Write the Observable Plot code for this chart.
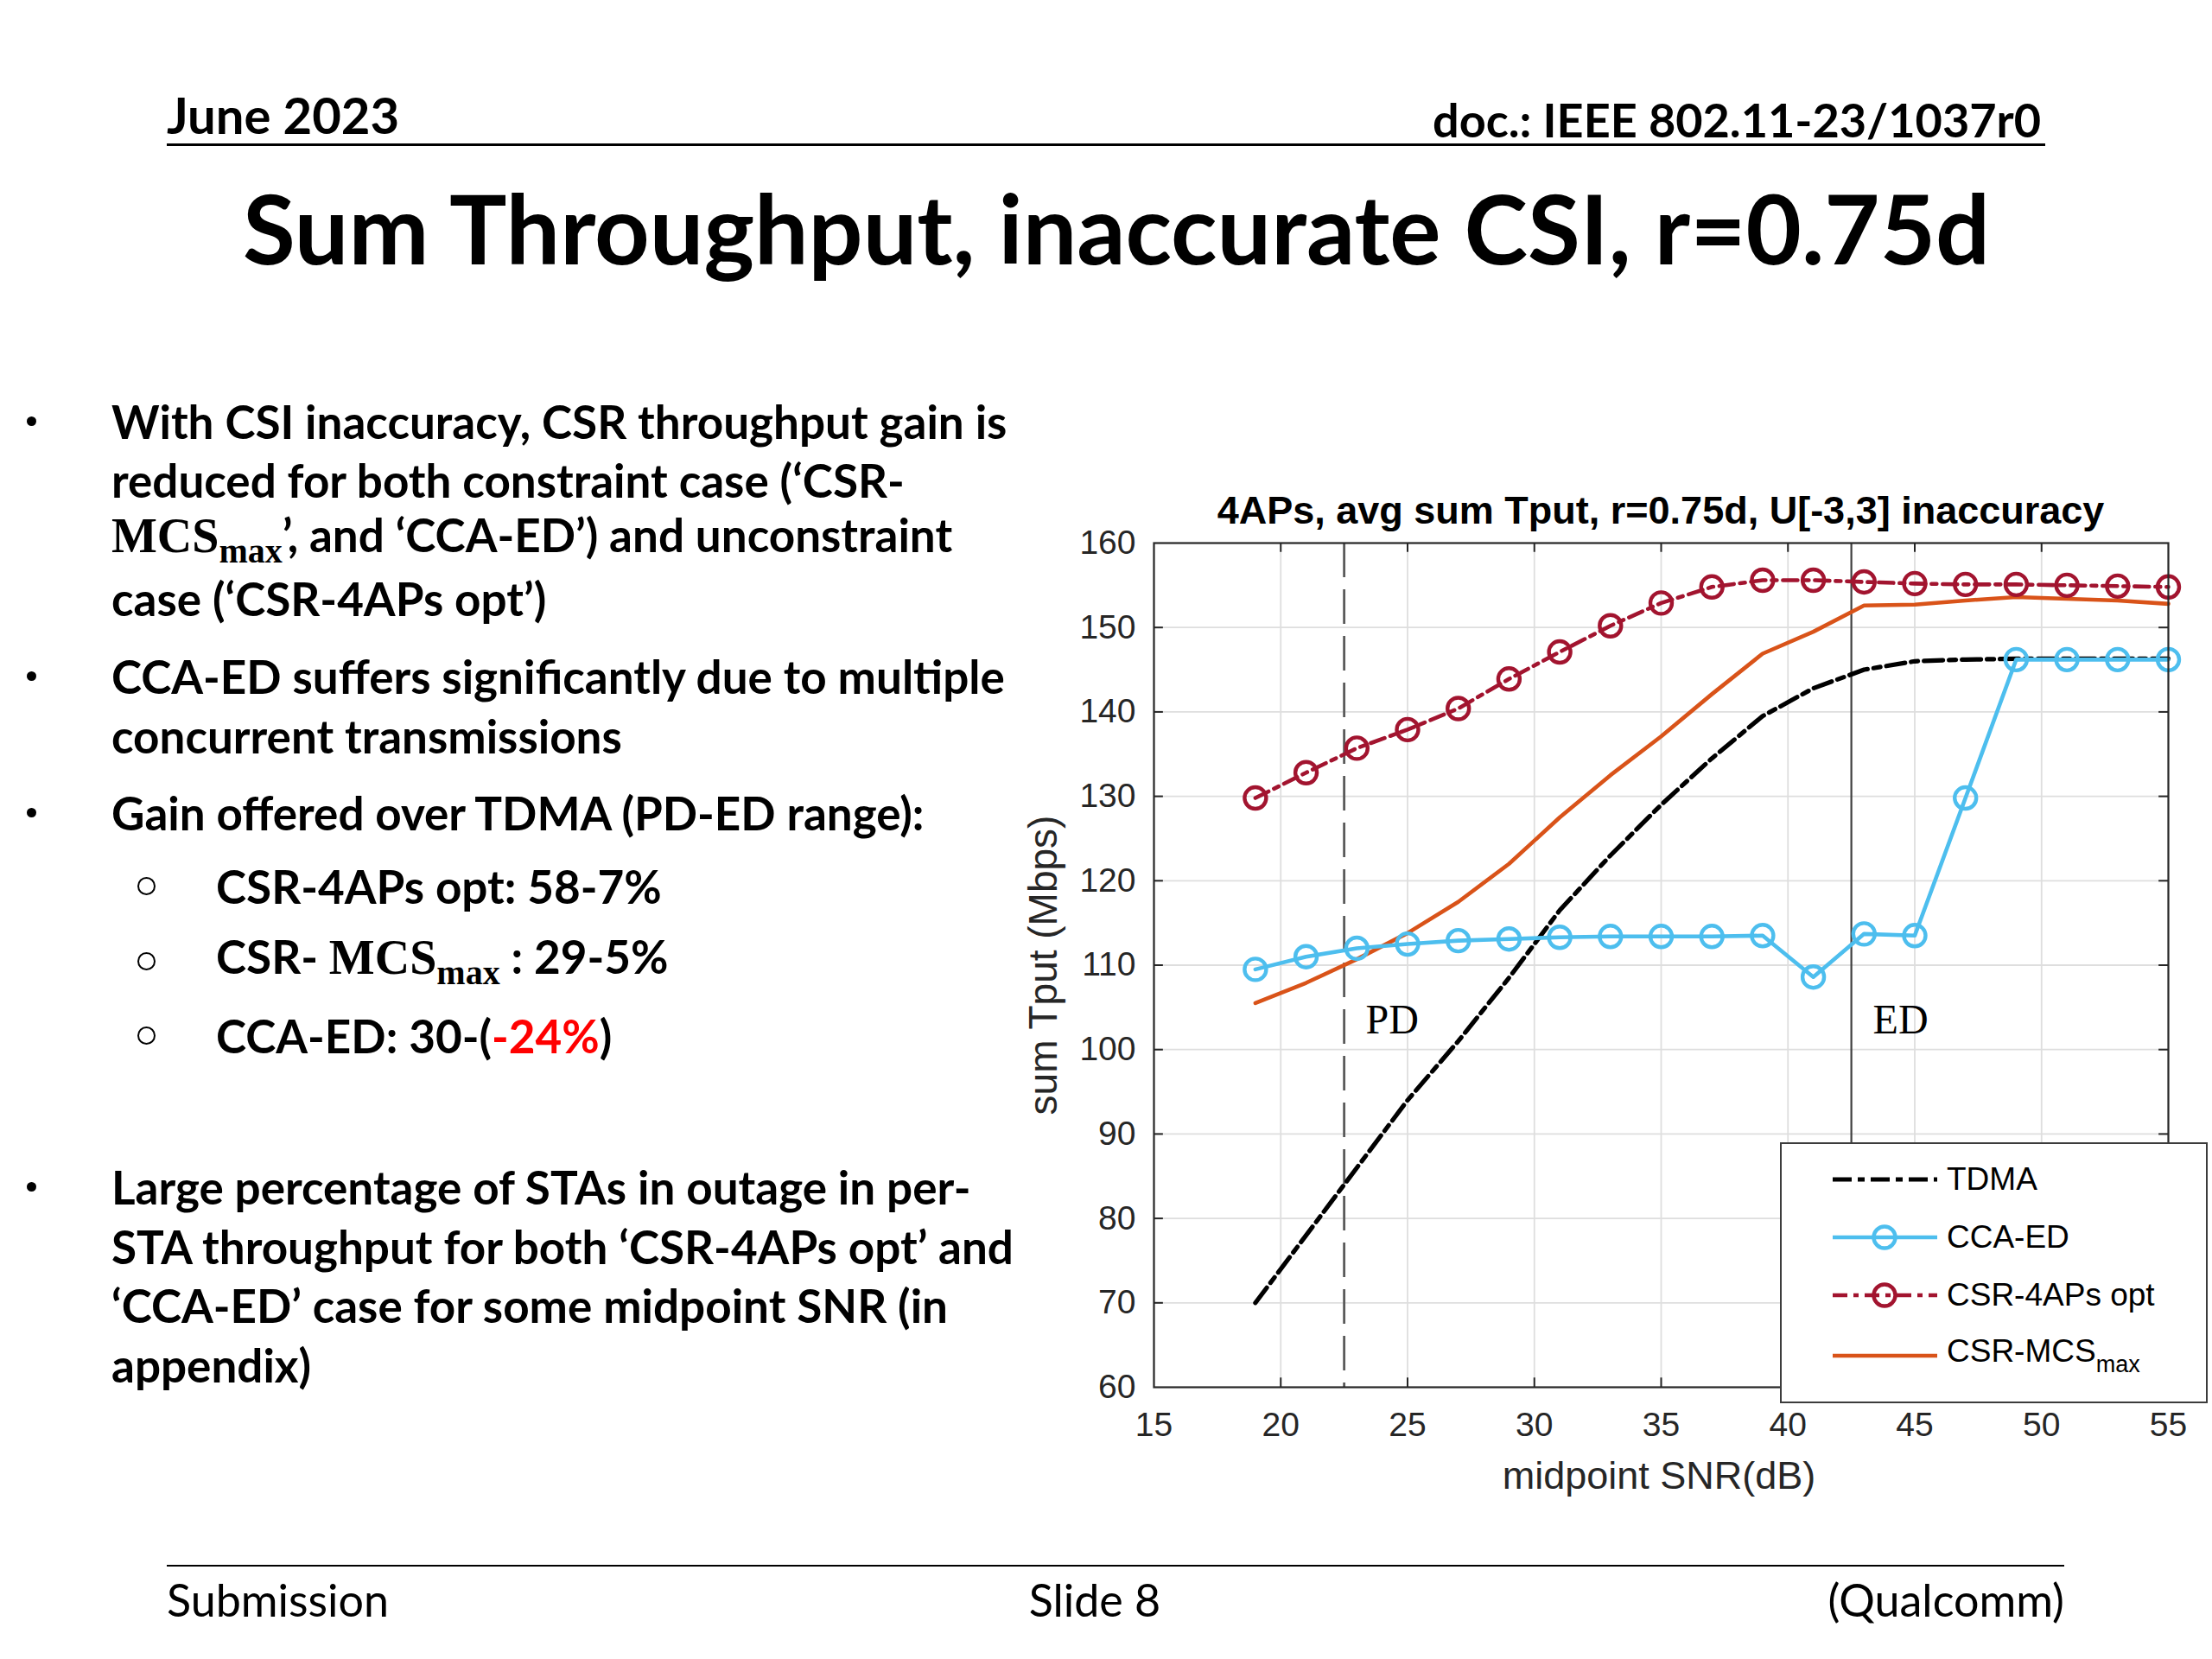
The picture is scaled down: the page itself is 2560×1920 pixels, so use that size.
<!DOCTYPE html>
<html>
<head>
<meta charset="utf-8">
<script src="https://cdn.jsdelivr.net/npm/d3@7"></script>
<script src="https://cdn.jsdelivr.net/npm/@observablehq/plot@0.6"></script>
<style>
  html, body { margin: 0; padding: 0; background: #fff; }
  #slide { position: relative; width: 2560px; height: 1920px; background: #fff; overflow: hidden; font-family: Lato, "Open Sans", sans-serif; color: #000; }
  .abs { position: absolute; white-space: nowrap; }
  .line { position: absolute; white-space: nowrap; font-weight: 700; font-size: 53px; transform: translateY(-50%); }
  .math { font-family: "Liberation Serif", "DejaVu Serif", serif; font-weight: 700; font-size: 56px; }
  .math sub { font-size: 40px; vertical-align: -0.28em; }
  .leg { position: absolute; left: 0; font-family: "Liberation Sans", Arial, sans-serif; font-size: 37px; color: #000; }
</style>
</head>
<body>
<div id="slide"></div>
<script>
// ---------- data ----------
const snr     = [19, 21, 23, 25, 27, 29, 31, 33, 35, 37, 39, 41, 43, 45, 47, 49, 51, 53, 55];
const tdma    = [70, 78, 86, 94, 101, 108.5, 116.5, 123, 129, 134.5, 139.5, 142.8, 145, 146, 146.2, 146.3, 146.3, 146.3, 146.3];
const ccaEd   = [109.5, 111, 112, 112.5, 112.9, 113.1, 113.3, 113.4, 113.4, 113.4, 113.5, 108.6, 113.7, 113.5, 129.8, 146.2, 146.2, 146.2, 146.2];
const csr4ap  = [129.8, 132.8, 135.7, 137.9, 140.4, 143.9, 147.1, 150.2, 152.9, 154.8, 155.6, 155.6, 155.4, 155.2, 155.1, 155.1, 155.0, 154.9, 154.8];
const csrMcs  = [105.5, 107.9, 110.7, 113.8, 117.5, 122.0, 127.5, 132.5, 137.1, 142.1, 146.9, 149.5, 152.6, 152.7, 153.2, 153.6, 153.4, 153.2, 152.8];
const xTicks  = [15, 20, 25, 30, 35, 40, 45, 50, 55];
const yTicks  = [60, 70, 80, 90, 100, 110, 120, 130, 140, 150, 160];
const thresholds = [22.5, 42.5];           // PD, ED midpoint SNR
const thresholdLabels = ["PD", "ED"];
const labelY = 103.5;
const seriesNames = ["TDMA", "CCA-ED", "CSR-4APs opt", "CSR-MCS"];

const slide = document.getElementById("slide");
function add(html, style, cls) {
  const d = document.createElement("div");
  d.className = cls || "abs";
  d.setAttribute("style", style);
  d.innerHTML = html;
  slide.appendChild(d);
  return d;
}

// ---------- slide header / footer ----------
add("June 2023", "left:193px; top:98px; font-weight:700; font-size:58px;");
add("doc.: IEEE 802.11-23/1037r0", "right:198px; top:106px; font-weight:700; font-size:54px;");
add("", "left:193px; top:166px; width:2174px; height:3px; background:#000;");
add("Sum Throughput, inaccurate CSI, r=0.75d", "left:0; width:2584px; text-align:center; top:196px; font-weight:700; font-size:111px;");
add("", "left:193px; top:1811px; width:2196px; height:2px; background:#000;");
add("Submission", "left:193px; top:1820px; font-size:52px;");
add("Slide 8", "left:1267px; transform:translateX(-50%); top:1820px; font-size:52px;");
add("(Qualcomm)", "right:171px; top:1820px; font-size:52px;");

// ---------- bullets ----------
const MCS = '<span class="math">MCS<sub>max</sub></span>';
const lines = [
  [129, 487, "With CSI inaccuracy, CSR throughput gain is"],
  [129, 555, "reduced for both constraint case (‘CSR-"],
  [129, 624, MCS + "’, and ‘CCA-ED’) and unconstraint"],
  [129, 692, "case (‘CSR-4APs opt’)"],
  [129, 782, "CCA-ED suffers significantly due to multiple"],
  [129, 851, "concurrent transmissions"],
  [129, 940, "Gain offered over TDMA (PD-ED range):"],
  [250, 1025, "CSR-4APs opt: 58-7%"],
  [250, 1112, "CSR- " + MCS + " : 29-5%"],
  [250, 1198, 'CCA-ED: 30-(<span style="color:#ff0000">-24%</span>)'],
  [129, 1373, "Large percentage of STAs in outage in per-"],
  [129, 1442, "STA throughput for both ‘CSR-4APs opt’ and"],
  [129, 1510, "‘CCA-ED’ case for some midpoint SNR (in"],
  [129, 1579, "appendix)"]
];
lines.forEach(([x, y, t]) => add(t, `left:${x}px; top:${y}px;`, "line"));
[487, 782, 940, 1373].forEach(y => add("", `left:31px; top:${y - 5}px; width:11px; height:11px; border-radius:50%; background:#000;`));
[1025, 1112, 1198].forEach(y => add("", `left:159px; top:${y - 10}px; width:21px; height:21px; border-radius:50%; border:2.5px solid #000; box-sizing:border-box;`));

// ---------- chart ----------
const rows = snr.map((x, i) => ({x, tdma: tdma[i], cca: ccaEd[i], csr4: csr4ap[i], mcs: csrMcs[i]}));
const C = {tdma: "#000000", cca: "#4DBEEE", csr4: "#A2142F", mcs: "#D95319"};
const DASH_TDMA = "22,7,8,7", DASH_CSR = "17,7,6,7";

const chart = Plot.plot({
  width: 1410, height: 1170,
  marginLeft: 185, marginTop: 68, marginRight: 51, marginBottom: 125,
  x: {domain: [15, 55], label: null},
  y: {domain: [60, 160], label: null},
  style: {fontFamily: "'Liberation Sans', Arial, sans-serif", fontSize: "39px", color: "#262626", background: "transparent", overflow: "visible"},
  marks: [
    Plot.gridX(xTicks.slice(1, -1), {stroke: "#dedede", strokeOpacity: 1, strokeWidth: 1.8}),
    Plot.gridY(yTicks.slice(1, -1), {stroke: "#dedede", strokeOpacity: 1, strokeWidth: 1.8}),
    Plot.ruleX([thresholds[0]], {stroke: "#5a5a5a", strokeWidth: 2.8, strokeDasharray: "40,14"}),
    Plot.ruleX([thresholds[1]], {stroke: "#404040", strokeWidth: 2.2}),
    Plot.text(thresholds.map((t, i) => ({x: t + 0.85, y: labelY, t: thresholdLabels[i]})), {x: "x", y: "y", text: "t", textAnchor: "start", fontFamily: "'Liberation Serif', 'Times New Roman', serif", fontSize: 48, fill: "#000"}),
    Plot.line(rows, {x: "x", y: "mcs", stroke: C.mcs, strokeWidth: 4.6}),
    Plot.line(rows, {x: "x", y: "tdma", stroke: C.tdma, strokeWidth: 5.2, strokeDasharray: DASH_TDMA}),
    Plot.line(rows, {x: "x", y: "cca", stroke: C.cca, strokeWidth: 4.6}),
    Plot.dot(rows, {x: "x", y: "cca", r: 12.5, stroke: C.cca, strokeWidth: 4.4, fill: "none"}),
    Plot.line(rows, {x: "x", y: "csr4", stroke: C.csr4, strokeWidth: 4.6, strokeDasharray: DASH_CSR}),
    Plot.dot(rows, {x: "x", y: "csr4", r: 12.5, stroke: C.csr4, strokeWidth: 4.4, fill: "none"}),
    Plot.ruleX(xTicks.slice(1, -1), {y1: 60, y2: 61.1, stroke: "#262626", strokeWidth: 2}),
    Plot.ruleX(xTicks.slice(1, -1), {y1: 158.9, y2: 160, stroke: "#262626", strokeWidth: 2}),
    Plot.ruleY(yTicks.slice(1, -1), {x1: 15, x2: 15.37, stroke: "#262626", strokeWidth: 2}),
    Plot.ruleY(yTicks.slice(1, -1), {x1: 54.63, x2: 55, stroke: "#262626", strokeWidth: 2}),
    Plot.frame({stroke: "#262626", strokeWidth: 2.2}),
    Plot.axisX(xTicks, {tickSize: 0, tickPadding: 29, fontSize: 39, fill: "#262626"}),
    Plot.axisY(yTicks, {tickSize: 0, tickPadding: 21, fontSize: 39, fill: "#262626"})
  ]
});
chart.style.position = "absolute";
chart.style.left = "1150px";
chart.style.top = "560px";
slide.appendChild(chart);

// chart title and axis labels
add("4APs, avg sum Tput, r=0.75d, U[-3,3] inaccuracy", "left:1922px; transform:translate(-50%,-50%); top:591px; font-family:'Liberation Sans',Arial,sans-serif; font-weight:700; font-size:45px; color:#000;");
add("midpoint SNR(dB)", "left:1920px; transform:translate(-50%,-50%); top:1708px; font-family:'Liberation Sans',Arial,sans-serif; font-size:45px; color:#262626;");
add("sum Tput (Mbps)", "left:1207px; top:1117px; transform:translate(-50%,-50%) rotate(-90deg); font-family:'Liberation Sans',Arial,sans-serif; font-size:46px; color:#262626;");

// ---------- legend ----------
const legend = add("", "left:2060px; top:1322px; width:495px; height:302px; background:#fff; border:2px solid #3c3c3c; box-sizing:border-box;");
const legendRows = [
  {name: seriesNames[0], stroke: C.tdma, dash: DASH_TDMA, w: 5.2, marker: false},
  {name: seriesNames[1], stroke: C.cca, dash: null, w: 4.6, marker: true},
  {name: seriesNames[2], stroke: C.csr4, dash: DASH_CSR, w: 4.6, marker: true},
  {name: seriesNames[3] + '<sub style="font-size:27px; vertical-align:-0.45em">max</sub>', stroke: C.mcs, dash: null, w: 4.6, marker: false}
];
const rowY = [41, 108, 175, 245];
legendRows.forEach((r, i) => {
  const y = rowY[i];
  const svg = `<svg width="130" height="40" style="position:absolute; left:57px; top:${y - 20}px; overflow:visible">
    <line x1="2" x2="123" y1="20" y2="20" stroke="${r.stroke}" stroke-width="${r.w}" ${r.dash ? `stroke-dasharray="${r.dash}"` : ""}/>
    ${r.marker ? `<circle cx="62" cy="20" r="12.5" fill="none" stroke="${r.stroke}" stroke-width="4.4"/>` : ""}
  </svg>`;
  const d = document.createElement("div");
  d.innerHTML = svg;
  legend.appendChild(d.firstElementChild);
  const t = document.createElement("div");
  t.className = "leg";
  t.setAttribute("style", `left:191px; top:${y}px; transform:translateY(-50%); white-space:nowrap;`);
  t.innerHTML = r.name;
  legend.appendChild(t);
});
</script>
</body>
</html>
